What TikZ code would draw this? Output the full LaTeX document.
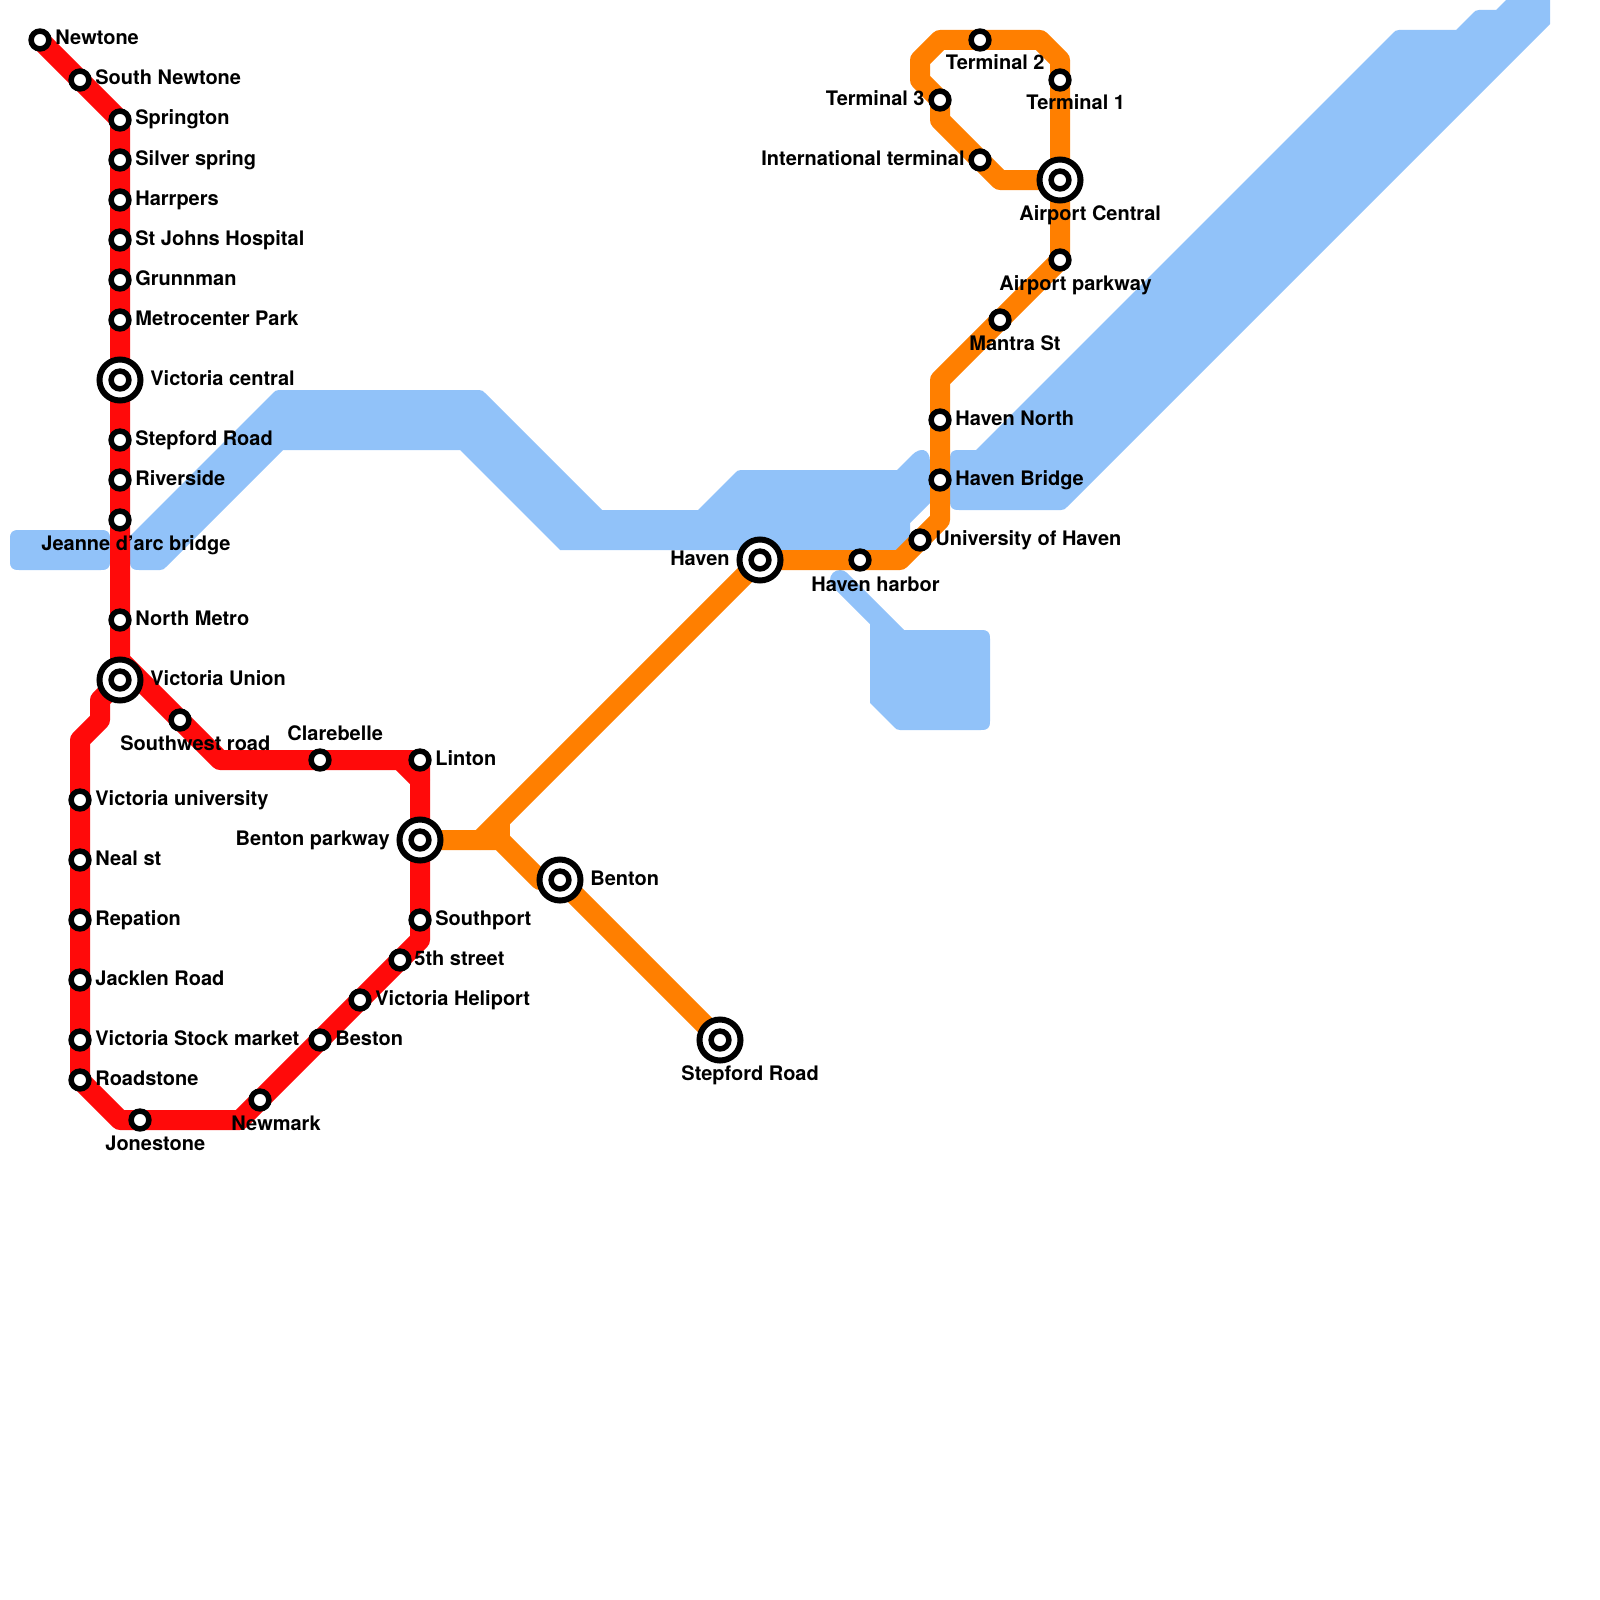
\documentclass[tikz,border=0pt]{standalone}
\usepackage{fontspec}
\setmainfont{TeX Gyre Heros}
\pgfdeclarelayer{waterlayer}
\pgfdeclarelayer{linelayer}
\pgfsetlayers{waterlayer,linelayer,main}
\definecolor{waterblue}{HTML}{91C2F9}
\definecolor{redline}{HTML}{FF0A0A}
\definecolor{orangeline}{HTML}{FF7F00}
\tikzset{
  waterarea/.style={fill=waterblue,draw=none},
  waterstub/.style={draw=waterblue,line width=10pt,line cap=round},
  metrored/.style={draw=redline,line width=10pt,line join=round,line cap=round},
  metroorange/.style={draw=orangeline,line width=10pt,line join=round,line cap=round},
  metrobutt/.style={draw=orangeline,line width=10pt},
  stationnode/.style={circle,draw=black,fill=white,line width=2.75pt,inner sep=0pt,minimum size=8.9pt},
  hubnode/.style={circle,draw=black,fill=white,line width=3pt,inner sep=0pt,minimum size=20.5pt},
  lbl/.style={font=\bfseries\fontsize{10pt}{12pt}\selectfont,inner sep=0pt,text=black}
}
% id, x, y, label x, label y, anchor, text
\newcommand{\stn}[7]{%
  \node[stationnode] (#1) at (#2,#3) {};
  \node[lbl,anchor=#6] (#1l) at (#4,#5) {#7};
}
\newcommand{\hub}[7]{%
  \node[hubnode] (#1o) at (#2,#3) {};
  \node[stationnode] (#1) at (#2,#3) {};
  \node[lbl,anchor=#6] (#1l) at (#4,#5) {#7};
}
\begin{document}
\begin{tikzpicture}[x=0.5pt,y=-0.5pt]
\useasboundingbox (0,0) rectangle (1600,1600);
% stations
\stn{newtone}{40}{40}{55}{45}{base west}{Newtone}
\stn{snewtone}{80}{80}{95}{85}{base west}{South Newtone}
\stn{springton}{120}{120}{135}{125}{base west}{Springton}
\stn{silver}{120}{160}{135}{165}{base west}{Silver spring}
\stn{harrpers}{120}{200}{135}{205}{base west}{Harrpers}
\stn{stjohns}{120}{240}{135}{245}{base west}{St Johns Hospital}
\stn{grunnman}{120}{280}{135}{285}{base west}{Grunnman}
\stn{metropark}{120}{320}{135}{325}{base west}{Metrocenter Park}
\hub{viccentral}{120}{380}{150}{385}{base west}{Victoria central}
\stn{stepfordr}{120}{440}{135}{445}{base west}{Stepford Road}
\stn{riverside}{120}{480}{135}{485}{base west}{Riverside}
\stn{jeanne}{120}{520}{41}{550}{base west}{Jeanne d'arc bridge}
\stn{northm}{120}{620}{135}{625}{base west}{North Metro}
\hub{vicunion}{120}{680}{150}{685}{base west}{Victoria Union}
\stn{southwest}{180}{720}{120}{750}{base west}{Southwest road}
\stn{clarebelle}{320}{760}{287}{740}{base west}{Clarebelle}
\stn{linton}{420}{760}{435}{765}{base west}{Linton}
\hub{bentonp}{420}{840}{390}{845}{base east}{Benton parkway}
\stn{southport}{420}{920}{435}{925}{base west}{Southport}
\stn{fifth}{400}{960}{414}{965}{base west}{5th street}
\stn{heliport}{360}{1000}{375}{1005}{base west}{Victoria Heliport}
\stn{beston}{320}{1040}{335}{1045}{base west}{Beston}
\stn{newmark}{260}{1100}{231}{1130}{base west}{Newmark}
\stn{jonestone}{140}{1120}{105}{1150}{base west}{Jonestone}
\stn{roadstone}{80}{1080}{95}{1085}{base west}{Roadstone}
\stn{stock}{80}{1040}{95}{1045}{base west}{Victoria Stock market}
\stn{jacklen}{80}{980}{95}{985}{base west}{Jacklen Road}
\stn{repation}{80}{920}{95}{925}{base west}{Repation}
\stn{neal}{80}{860}{95}{865}{base west}{Neal st}
\stn{vicuni}{80}{800}{95}{805}{base west}{Victoria university}
\hub{benton}{560}{880}{590}{885}{base west}{Benton}
\hub{stepfords}{720}{1040}{681}{1080}{base west}{Stepford Road}
\hub{haven}{760}{560}{730}{565}{base east}{Haven}
\stn{harbor}{860}{560}{811}{591}{base west}{Haven harbor}
\stn{univ}{920}{540}{935}{545}{base west}{University of Haven}
\stn{bridge}{940}{480}{955}{485}{base west}{Haven Bridge}
\stn{north}{940}{420}{955}{425}{base west}{Haven North}
\stn{mantra}{1000}{320}{969}{350}{base west}{Mantra St}
\stn{parkway}{1060}{260}{999}{290}{base west}{Airport parkway}
\hub{central}{1060}{180}{1019}{220}{base west}{Airport Central}
\stn{termone}{1060}{80}{1026}{110}{base west}{Terminal 1}
\stn{termtwo}{980}{40}{1045}{70}{base east}{Terminal 2}
\stn{termthree}{940}{100}{925}{105}{base east}{Terminal 3}
\stn{intl}{980}{160}{965}{165}{base east}{International terminal}
% bends
\coordinate (r1) at (120,660);
\coordinate (r2) at (220,760);
\coordinate (r3) at (400,760);
\coordinate (r4) at (420,780);
\coordinate (r5) at (420,940);
\coordinate (r6) at (240,1120);
\coordinate (r7) at (120,1120);
\coordinate (r8) at (80,740);
\coordinate (r9) at (100,720);
\coordinate (r10) at (100,700);
\coordinate (o1) at (480,840);
\coordinate (o2) at (500,840);
\coordinate (o3) at (500,820);
\coordinate (o4) at (540,880);
\coordinate (o5) at (900,560);
\coordinate (o6) at (940,520);
\coordinate (o7) at (940,380);
\coordinate (o8) at (1060,60);
\coordinate (o9) at (1040,40);
\coordinate (o10) at (940,40);
\coordinate (o11) at (920,60);
\coordinate (o12) at (920,80);
\coordinate (o13) at (940,120);
\coordinate (o14) at (1000,180);
\begin{pgfonlayer}{waterlayer}
\fill[waterarea] (19,530) -- (101,530) .. controls (108,530) and (110,532) .. (110,539) -- (110,561) .. controls (110,568) and (108,570) .. (101,570) -- (19,570) .. controls (12,570) and (10,568) .. (10,561) -- (10,539) .. controls (10,532) and (12,530) .. (19,530) -- cycle;
\fill[waterarea] (139,570) .. controls (132,570) and (130,568) .. (130,561) -- (130,536) -- (273,393) .. controls (275,391) and (276,390) .. (279,390) -- (479,390) .. controls (482,390) and (483,391) .. (485,393) -- (602,510) -- (698,510) -- (735,473) .. controls (737,471) and (738,470) .. (741,470) -- (897,470) -- (912,455) .. controls (920,447) and (930,448) .. (930,462) -- (930,503) -- (910,523) -- (910,537) -- (897,550) -- (560,550) -- (460,450) -- (283,450) -- (166,567) .. controls (164,569) and (163,570) .. (160,570) -- cycle;
\fill[waterarea] (959,510) .. controls (952,510) and (950,508) .. (950,501) -- (950,459) .. controls (950,452) and (952,450) .. (959,450) -- (976,450) -- (1393,33) .. controls (1395,31) and (1396,30) .. (1399,30) -- (1456,30) -- (1473,13) .. controls (1475,11) and (1476,10) .. (1479,10) -- (1496,10) -- (1506,0) -- (1550,0) -- (1550,24) -- (1067,507) .. controls (1065,509) and (1064,510) .. (1061,510) -- cycle;
\fill[waterarea] (870,624) -- (870,703) -- (894,727) .. controls (896,729) and (897,730) .. (900,730) -- (981,730) .. controls (988,730) and (990,728) .. (990,721) -- (990,639) .. controls (990,632) and (988,630) .. (981,630) -- (904,630) -- cycle;
\draw[waterstub] (840,580) -- (900,640);
\end{pgfonlayer}
\begin{pgfonlayer}{linelayer}
\draw[metrored] (newtone.center) -- (snewtone.center) -- (springton.center) -- (silver.center) -- (harrpers.center) -- (stjohns.center) -- (grunnman.center) -- (metropark.center) -- (viccentral.center) -- (stepfordr.center) -- (riverside.center) -- (jeanne.center) -- (northm.center) -- (vicunion.center) -- (r10) -- (r9) -- (r8) -- (vicuni.center) -- (neal.center) -- (repation.center) -- (jacklen.center) -- (stock.center) -- (roadstone.center) -- (r7) -- (jonestone.center) -- (r6) -- (newmark.center) -- (beston.center) -- (heliport.center) -- (fifth.center) -- (r5) -- (southport.center) -- (bentonp.center) -- (r4) -- (linton.center) -- (clarebelle.center) -- (r2) -- (southwest.center) -- (r1);
\draw[metrored] (r3) -- (r4);
\draw[metroorange] (bentonp.center) -- (o1) -- (haven.center) -- (harbor.center) -- (o5) -- (univ.center) -- (o6) -- (bridge.center) -- (north.center) -- (o7) -- (mantra.center) -- (parkway.center) -- (central.center) -- (termone.center) -- (o8) -- (o9) -- (termtwo.center) -- (o10) -- (o11) -- (o12) -- (termthree.center) -- (o13) -- (intl.center) -- (o14) -- (central.center);
\draw[metroorange] (o1) -- (o2) -- (o4) -- (benton.center) -- (stepfords.center);
\draw[metrobutt] (o3) -- (o2);
\end{pgfonlayer}
\end{tikzpicture}
\end{document}
